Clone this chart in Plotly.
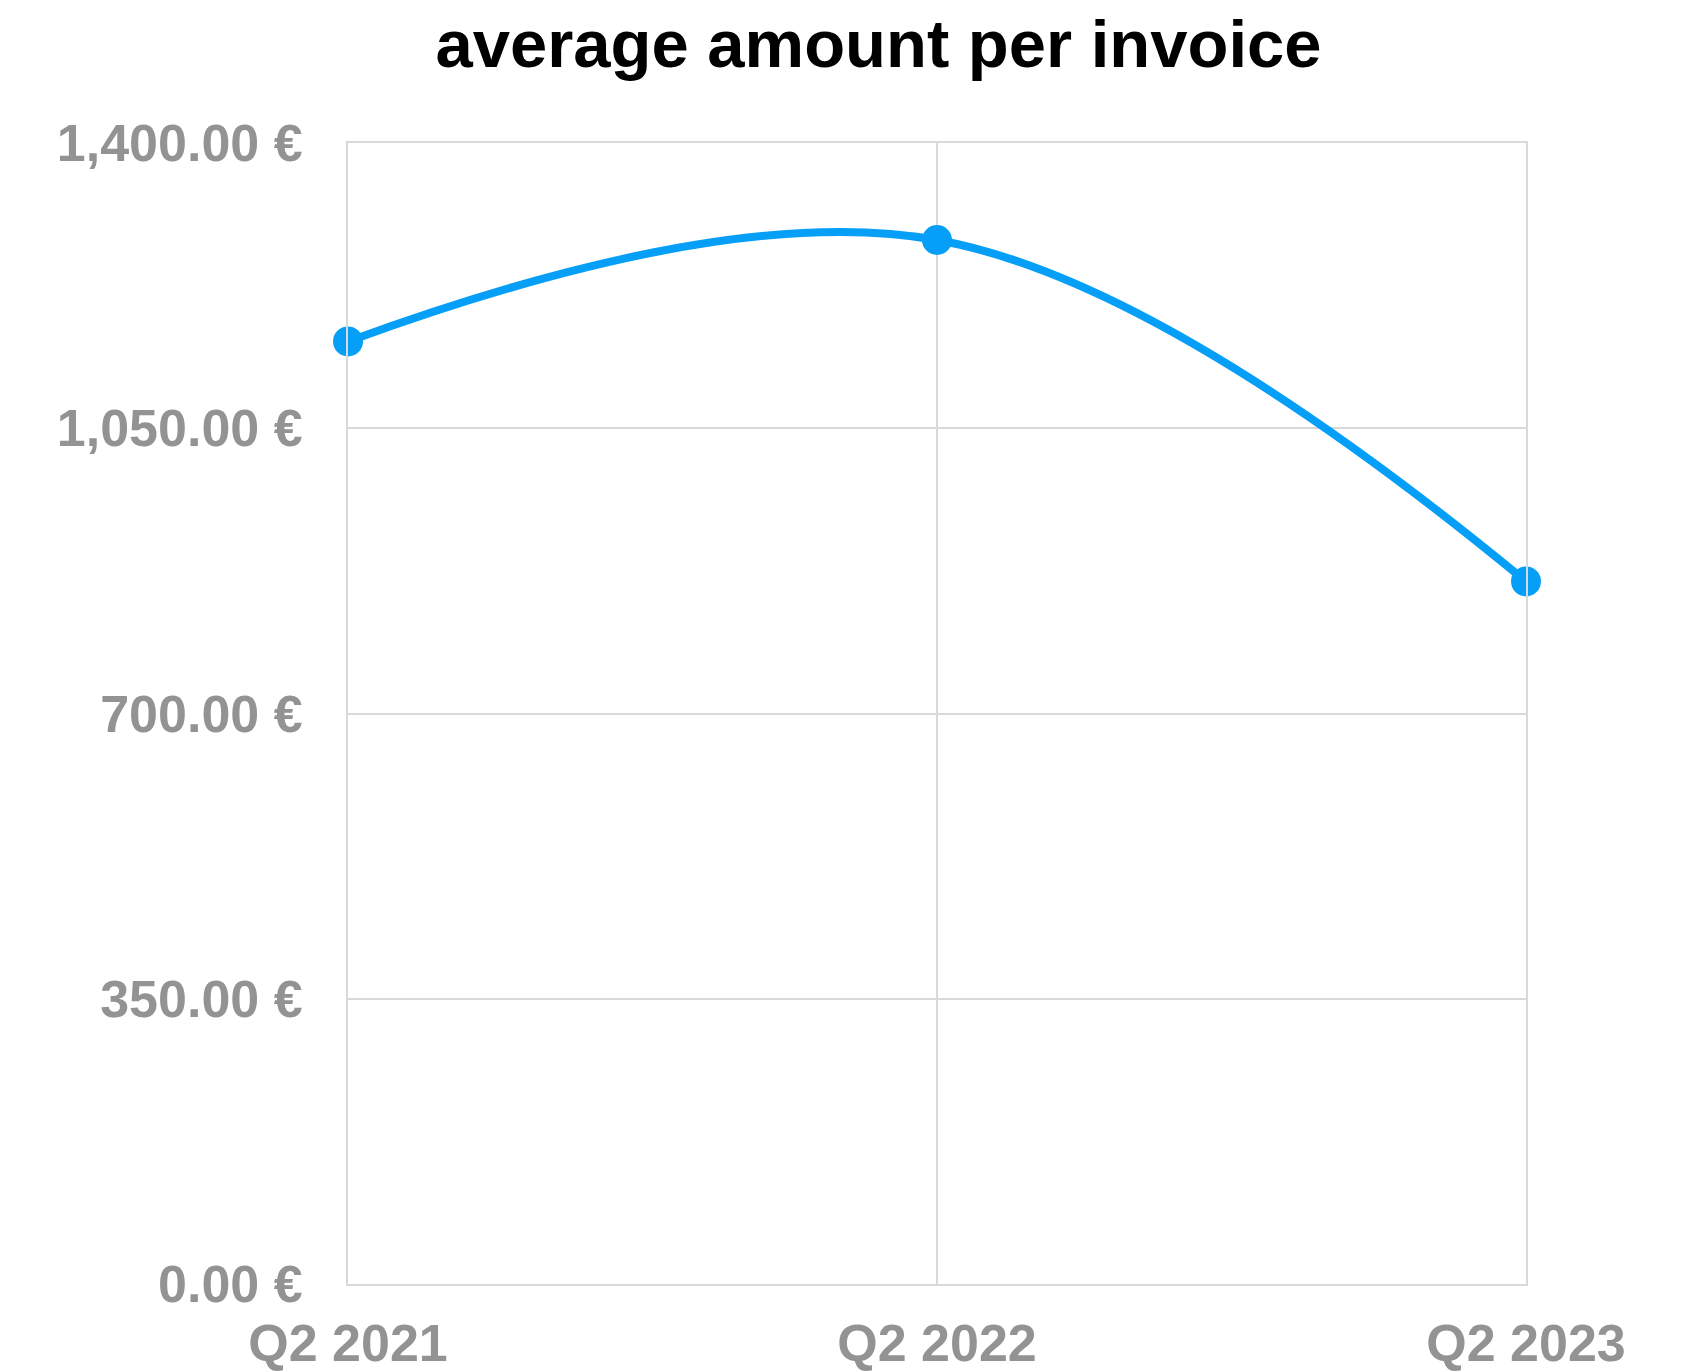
import plotly.graph_objects as go

categories = ["Q2 2021", "Q2 2022", "Q2 2023"]
avg_amount = [1156.5, 1281.0, 862.0]
y_ticks = [0, 350, 700, 1050, 1400]
y_tick_labels = [f"{v:,.2f} \u20ac" for v in y_ticks]

FONT = "Liberation Sans, Arial, sans-serif"
BLUE = "#069FF7"
GRID = "#D9D9D9"
GRAY = "#939393"

fig = go.Figure()
fig.add_trace(go.Scatter(
    x=list(range(len(categories))),
    y=avg_amount,
    mode="lines+markers",
    line=dict(color=BLUE, width=8, shape="spline", smoothing=1.1),
    marker=dict(color=BLUE, size=30),
    cliponaxis=False,
    hoverinfo="skip",
))

fig.update_layout(
    width=1687, height=1372,
    margin=dict(l=340, r=169, t=135, b=96),
    paper_bgcolor="white", plot_bgcolor="white",
    showlegend=False,
    title=dict(
        text="<b>average amount per invoice</b>",
        font=dict(family=FONT, size=67, color="#000000"),
        x=0.516, xref="container", xanchor="center",
        y=1 - 36 / 1372, yref="container", yanchor="middle",
    ),
)
fig.update_xaxes(
    range=[0, len(categories) - 1],
    tickmode="array",
    tickvals=list(range(len(categories))),
    ticktext=categories,
    showgrid=True, gridcolor=GRID, gridwidth=2,
    zeroline=False,
    showline=True, linecolor=GRID, linewidth=2, mirror=True,
    tickfont=dict(family=FONT, size=52, color=GRAY, weight="bold"),
    ticklabelstandoff=13,
    automargin=False,
    fixedrange=True,
)
fig.update_yaxes(
    range=[0, 1400],
    tickmode="array",
    tickvals=y_ticks,
    ticktext=y_tick_labels,
    showgrid=True, gridcolor=GRID, gridwidth=2,
    zeroline=True, zerolinecolor=GRID, zerolinewidth=3,
    showline=True, linecolor=GRID, linewidth=2, mirror=True,
    tickfont=dict(family=FONT, size=52, color=GRAY, weight="bold"),
    ticklabelstandoff=33,
    automargin=False,
    fixedrange=True,
)

fig.write_html("out.html", config={"displayModeBar": False})
